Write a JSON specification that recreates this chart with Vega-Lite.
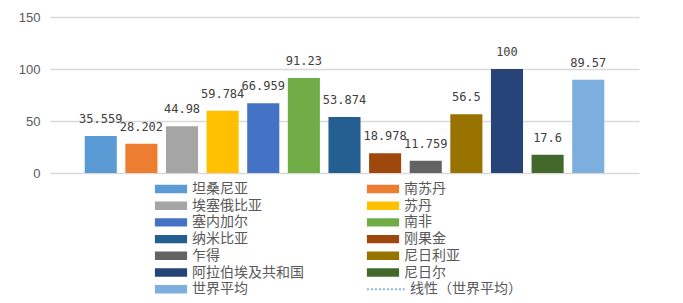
{
  "$schema": "https://vega.github.io/schema/vega-lite/v6.json",
  "width": 589,
  "height": 156,
  "autosize": "none",
  "padding": {"left": 50, "top": 17, "right": 44, "bottom": 130},
  "background": "white",
  "config": {"view": {"stroke": null}},
  "data": {"values": [
    {"country": "坦桑尼亚", "value": 35.559, "label": "35.559"},
    {"country": "南苏丹", "value": 28.202, "label": "28.202"},
    {"country": "埃塞俄比亚", "value": 44.98, "label": "44.98"},
    {"country": "苏丹", "value": 59.784, "label": "59.784"},
    {"country": "塞内加尔", "value": 66.959, "label": "66.959"},
    {"country": "南非", "value": 91.23, "label": "91.23"},
    {"country": "纳米比亚", "value": 53.874, "label": "53.874"},
    {"country": "刚果金", "value": 18.978, "label": "18.978"},
    {"country": "乍得", "value": 11.759, "label": "11.759"},
    {"country": "尼日利亚", "value": 56.5, "label": "56.5"},
    {"country": "阿拉伯埃及共和国", "value": 100, "label": "100"},
    {"country": "尼日尔", "value": 17.6, "label": "17.6"},
    {"country": "世界平均", "value": 89.57, "label": "89.57"}
  ]},
  "encoding": {
    "x": {"field": "country", "type": "nominal", "sort": null, "axis": null,
          "scale": {"type": "band", "paddingInner": 0.21, "paddingOuter": 0.855}},
    "y": {"field": "value", "type": "quantitative",
          "scale": {"domain": [0, 150], "nice": false},
          "axis": {"values": [0, 50, 100, 150], "title": null, "domain": false, "ticks": false,
                   "grid": true, "gridColor": "#d9d9d9", "gridWidth": 1.5,
                   "labelFont": "Liberation Sans", "labelFontSize": 13, "labelColor": "#595959",
                   "labelPadding": 10}}
  },
  "layer": [
    {
      "mark": {"type": "bar"},
      "encoding": {
        "color": {"field": "country", "type": "nominal",
          "scale": {
            "domain": ["坦桑尼亚", "埃塞俄比亚", "塞内加尔", "纳米比亚", "乍得", "阿拉伯埃及共和国", "世界平均", "南苏丹", "苏丹", "南非", "刚果金", "尼日利亚", "尼日尔", "线性（世界平均）"],
            "range": ["#5b9bd5", "#a5a5a5", "#4472c4", "#255e91", "#636363", "#264478", "#7cafdd", "#ed7d31", "#ffc000", "#70ad47", "#9e480e", "#997300", "#43682b", "#8db4e2"]
          },
          "legend": {
            "title": null, "orient": "none", "legendX": 114, "legendY": 165,
            "columns": 2, "columnPadding": 58, "rowPadding": 2.7, "padding": 0,
            "symbolSize": 196, "labelOffset": 14,
            "labelFont": "Noto Sans CJK SC", "labelFontSize": 14, "labelColor": "#595959",
            "labelLimit": 300,
            "encode": {
              "symbols": {"update": {
                "shape": {"signal": "datum.value === '线性（世界平均）' ? 'M-2.3,0H3.1' : 'M-2.3,-0.6H2.3V0.6H-2.3Z'"},
                "fill": {"signal": "datum.value === '线性（世界平均）' ? 'transparent' : scale('color', datum.value)"},
                "stroke": {"signal": "datum.value === '线性（世界平均）' ? '#8db4e2' : 'transparent'"},
                "strokeWidth": {"signal": "datum.value === '线性（世界平均）' ? 2 : 0"},
                "strokeDash": {"signal": "datum.value === '线性（世界平均）' ? [2, 2] : []"},
                "opacity": {"value": 1}
              }},
              "labels": {"update": {
                "dx": {"signal": "datum.value === '线性（世界平均）' ? 6 : 0"}
              }}
            }
          }
        }
      }
    },
    {
      "mark": {"type": "text", "baseline": "alphabetic", "dy": -13, "font": "DejaVu Sans Mono", "fontSize": 12, "color": "#404040"},
      "encoding": {"text": {"field": "label"}}
    }
  ]
}
